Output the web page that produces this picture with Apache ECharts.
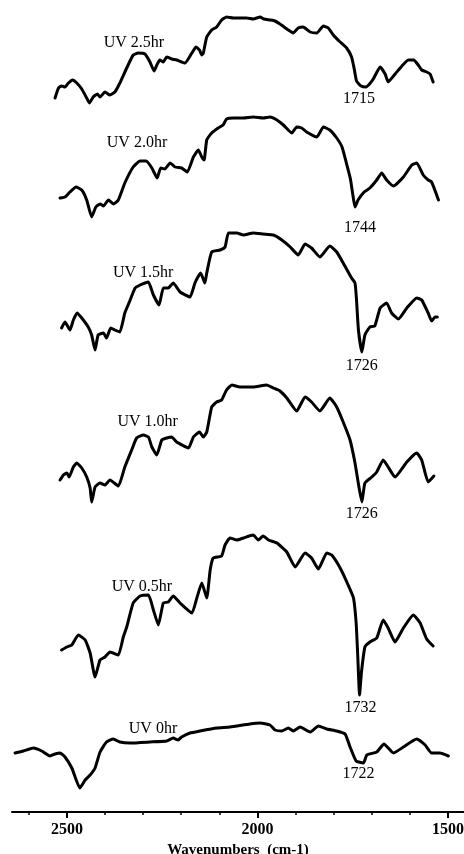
<!DOCTYPE html>
<html>
<head>
<meta charset="utf-8">
<script src="https://cdn.jsdelivr.net/npm/echarts@6/dist/echarts.min.js"></script>
<style>
  html, body { margin: 0; padding: 0; background: #fff; }
  #chart { width: 464px; height: 854px; }
</style>
</head>
<body>
<div id="chart"></div>
<script>
// FTIR spectra of the film after increasing UV exposure, stacked bottom to top.
// Each spectrum: [wavenumber (cm-1), stacked transmittance (a.u.)]
const seriesNames = ['UV 0hr', 'UV 0.5hr', 'UV 1.0hr', 'UV 1.5hr', 'UV 2.0hr', 'UV 2.5hr'];

// Carbonyl band position reported under each trace
const carbonylPeaks = [1722, 1732, 1726, 1726, 1744, 1715];

const spectrum0h = [
  [2636,5.9],[2614,6.1],[2588,6.4],[2566,6.1],[2544,5.6],[2531,5.8],[2518,5.9],[2505,5.5],
  [2487,4.4],[2466,2.4],[2452,3.2],[2439,3.7],[2426,4.4],[2413,6.0],[2396,7.0],[2378,7.3],
  [2361,7.0],[2334,6.9],[2282,7.0],[2238,7.1],[2221,7.4],[2208,7.2],[2199,7.5],[2177,7.9],
  [2151,8.1],[2107,8.4],[2072,8.5],[2020,8.8],[1993,8.9],[1967,8.7],[1954,8.2],[1936,8.1],
  [1919,8.4],[1906,8.1],[1888,8.5],[1862,8.0],[1840,8.6],[1818,8.3],[1792,8.1],[1770,7.8],
  [1757,6.5],[1741,5.1],[1722,4.9],[1713,5.7],[1687,6.0],[1668,6.8],[1643,5.9],[1617,6.5],
  [1582,7.3],[1560,6.7],[1543,5.9],[1521,5.9],[1499,5.6]
];

const spectrum05h = [
  [2514,16.2],[2500,16.5],[2487,16.7],[2470,17.7],[2452,17.2],[2439,15.9],[2426,13.5],[2413,15.2],
  [2400,15.5],[2387,16.0],[2365,15.7],[2352,17.5],[2343,18.5],[2326,20.9],[2308,21.6],[2286,21.7],
  [2273,20.2],[2260,18.7],[2247,20.9],[2234,21.0],[2221,21.6],[2203,20.9],[2172,19.9],[2159,21.4],
  [2146,22.9],[2133,21.4],[2124,24.2],[2116,25.4],[2094,25.6],[2085,26.7],[2072,27.4],[2054,27.2],
  [2037,27.4],[2011,27.7],[1998,27.2],[1985,27.6],[1971,27.2],[1949,26.9],[1923,26.0],[1901,24.5],
  [1875,25.9],[1858,25.4],[1840,24.3],[1818,25.9],[1805,25.7],[1783,24.4],[1762,22.7],[1748,21.4],
  [1741,18.9],[1737,15.8],[1732,11.7],[1727,14.0],[1718,16.5],[1705,17.0],[1687,17.4],[1670,19.2],
  [1657,18.4],[1639,17.0],[1617,18.4],[1591,19.7],[1573,18.9],[1556,17.3],[1539,16.6]
];

const spectrum10h = [
  [2518,33.2],[2509,33.7],[2500,33.9],[2494,33.5],[2483,34.5],[2474,34.9],[2461,34.4],[2448,33.5],
  [2439,32.4],[2435,31.0],[2426,32.5],[2413,32.9],[2400,32.7],[2387,33.2],[2365,32.6],[2348,34.5],
  [2330,36.2],[2317,37.4],[2299,37.7],[2286,37.5],[2277,36.5],[2264,35.7],[2251,37.2],[2238,37.4],
  [2225,37.5],[2212,37.0],[2181,36.4],[2168,37.5],[2152,38.0],[2142,37.5],[2133,38.0],[2120,40.5],
  [2107,41.0],[2094,41.2],[2081,42.2],[2067,42.7],[2046,42.5],[2011,42.5],[1976,42.7],[1958,42.4],
  [1941,42.1],[1923,41.4],[1897,40.1],[1875,41.5],[1858,41.0],[1836,40.1],[1810,41.4],[1792,40.5],
  [1775,39.0],[1757,37.2],[1744,34.9],[1735,32.8],[1726,31.0],[1718,32.9],[1700,33.5],[1687,34.0],
  [1670,35.2],[1657,34.5],[1639,33.5],[1608,35.0],[1582,35.9],[1569,35.2],[1552,33.0],[1537,33.6]
];

const spectrum15h = [
  [2514,48.4],[2505,49.0],[2492,48.2],[2483,49.2],[2473,49.9],[2461,49.4],[2444,48.5],[2435,47.7],
  [2426,46.2],[2418,47.7],[2404,47.9],[2396,47.4],[2385,48.4],[2374,48.2],[2361,48.0],[2348,49.9],
  [2336,51.0],[2321,52.4],[2308,52.7],[2295,52.9],[2286,53.0],[2273,51.7],[2258,50.7],[2247,52.4],
  [2234,52.4],[2221,52.9],[2203,52.0],[2177,51.5],[2164,52.9],[2149,53.9],[2138,52.9],[2133,53.9],
  [2120,56.0],[2098,56.2],[2085,56.5],[2076,57.9],[2054,57.9],[2037,57.7],[2011,57.9],[1985,57.8],
  [1958,57.7],[1936,57.2],[1914,56.5],[1893,55.7],[1875,56.8],[1858,56.4],[1836,55.5],[1810,56.6],
  [1792,56.0],[1775,54.9],[1753,53.4],[1744,52.9],[1740,51.2],[1735,48.2],[1726,46.0],[1718,47.7],
  [1705,48.5],[1692,48.6],[1678,50.4],[1661,50.9],[1648,49.9],[1630,49.3],[1608,50.4],[1582,51.4],
  [1569,51.2],[1552,49.9],[1543,49.1],[1534,49.5],[1528,49.5]
];

const spectrum20h = [
  [2518,61.4],[2505,61.5],[2492,62.0],[2476,62.5],[2461,62.2],[2448,61.2],[2435,59.5],[2424,60.5],
  [2413,60.8],[2404,60.6],[2391,61.2],[2378,60.8],[2365,61.2],[2348,62.9],[2326,64.5],[2308,65.1],
  [2292,65.1],[2277,64.4],[2263,63.4],[2254,64.4],[2243,64.3],[2229,64.9],[2216,64.5],[2199,64.4],
  [2184,64.0],[2168,65.5],[2155,66.2],[2146,65.5],[2140,65.2],[2133,67.2],[2120,67.9],[2103,68.4],
  [2090,68.7],[2081,69.3],[2063,69.4],[2037,69.4],[2011,69.5],[1985,69.4],[1967,69.5],[1949,69.2],
  [1932,68.7],[1910,67.9],[1897,68.5],[1884,68.4],[1871,68.0],[1844,67.5],[1827,68.5],[1810,68.2],
  [1792,67.4],[1778,66.5],[1766,64.8],[1756,63.3],[1750,61.8],[1744,60.5],[1736,61.2],[1720,62.0],
  [1705,62.4],[1687,63.2],[1674,63.9],[1661,63.2],[1643,62.6],[1617,63.5],[1595,64.7],[1582,64.9],
  [1565,63.7],[1552,63.2],[1543,63.0],[1525,61.2]
];

const spectrum25h = [
  [2531,71.4],[2522,72.4],[2514,72.6],[2505,72.5],[2496,72.9],[2485,73.2],[2474,72.9],[2461,72.3],
  [2448,71.4],[2441,70.9],[2431,71.5],[2420,71.8],[2413,71.5],[2400,72.0],[2387,71.7],[2374,72.0],
  [2361,72.9],[2343,74.4],[2326,75.7],[2313,75.9],[2295,75.8],[2282,75.0],[2271,74.1],[2264,74.7],
  [2256,75.2],[2247,75.0],[2238,75.5],[2225,75.3],[2212,75.2],[2190,74.9],[2172,75.9],[2161,76.5],
  [2152,76.2],[2146,75.7],[2142,75.9],[2133,77.5],[2120,78.2],[2107,78.5],[2094,79.2],[2081,79.5],
  [2063,79.4],[2028,79.4],[2011,79.3],[1993,79.5],[1983,79.3],[1967,79.2],[1954,79.1],[1941,78.8],
  [1919,78.2],[1906,77.9],[1893,78.4],[1880,78.5],[1862,78.0],[1844,77.9],[1827,78.6],[1814,78.4],
  [1801,77.7],[1783,77.0],[1766,76.4],[1753,75.5],[1746,74.3],[1740,73.1],[1728,72.6],[1715,72.5],
  [1706,72.8],[1696,73.3],[1678,74.5],[1665,73.8],[1657,73.0],[1645,73.5],[1630,74.2],[1604,75.2],
  [1590,75.2],[1578,74.7],[1569,74.2],[1556,74.0],[1547,73.8],[1539,73.0]
];

const spectra = [spectrum0h, spectrum05h, spectrum10h, spectrum15h, spectrum20h, spectrum25h];

// Axis ticks
const majorTicks = [2500, 2000, 1500];
const minorTicks = [2600, 2500, 2400, 2300, 2200, 2100, 2000, 1900, 1800, 1700, 1600, 1500];
const axisTitle = 'Wavenumbers  (cm-1)';

// ---- layout ----
const X_MIN = 1458, X_MAX = 2644, Y_MAX = 81.2;
// where each trace's name sits (wavenumber, height)
const nameAnchors = [[2274, 8.3], [2303, 22.5], [2288, 39.0], [2300, 53.9], [2316, 66.9], [2324, 76.9]];
// pixel offsets of the peak labels from the band minimum
const peakLabelOffsets = [[-5, 11], [1, 13], [0, 12], [0, 14], [5, 21], [-7, 12]];

const serif = 'Liberation Serif, Times New Roman, serif';

function bandMinimum(spec, peak) {
  let best = null;
  spec.forEach(p => {
    if (Math.abs(p[0] - peak) < 30 && (!best || p[1] < best[1])) best = p;
  });
  return best;
}

const series = spectra.map((spec, i) => {
  const dip = bandMinimum(spec, carbonylPeaks[i]);
  return {
    name: seriesNames[i],
    type: 'line',
    xAxisIndex: 0,
    data: spec,
    showSymbol: false,
    smooth: 0.15,
    lineStyle: { color: '#000', width: 3, join: 'round', cap: 'round' },
    z: 3,
    markPoint: {
      symbol: 'circle',
      symbolSize: 1,
      itemStyle: { color: 'rgba(0,0,0,0)' },
      silent: true,
      data: [
        {
          coord: [carbonylPeaks[i], dip[1]],
          value: carbonylPeaks[i],
          label: {
            show: true, position: 'inside', offset: peakLabelOffsets[i],
            formatter: String(carbonylPeaks[i]),
            color: '#000', fontFamily: serif, fontSize: 16
          }
        },
        {
          coord: nameAnchors[i],
          value: 0,
          label: {
            show: true, position: 'inside',
            formatter: seriesNames[i],
            color: '#000', fontFamily: serif, fontSize: 16
          }
        }
      ]
    }
  };
});

const chart = echarts.init(document.getElementById('chart'), null, { renderer: 'canvas' });
chart.setOption({
  animation: false,
  backgroundColor: '#fff',
  grid: { left: 12, right: 0, top: 0, bottom: 42, containLabel: false, outerBoundsMode: 'none' },
  xAxis: [
    {
      type: 'value', inverse: true, min: X_MIN, max: X_MAX, position: 'bottom',
      axisLine: { show: true, onZero: false, lineStyle: { color: '#000', width: 2 } },
      axisTick: { show: true, length: 3, customValues: minorTicks, lineStyle: { color: '#000', width: 1.5 } },
      axisLabel: { show: false },
      splitLine: { show: false }
    },
    {
      type: 'value', inverse: true, min: X_MIN, max: X_MAX, position: 'bottom',
      axisLine: { show: false, onZero: false },
      axisTick: { show: true, length: 6, customValues: majorTicks, lineStyle: { color: '#000', width: 2 } },
      axisLabel: {
        show: true, customValues: majorTicks, margin: 10,
        formatter: v => String(v),
        fontFamily: serif, fontWeight: 'bold', fontSize: 16, color: '#000'
      },
      splitLine: { show: false },
      name: axisTitle, nameLocation: 'middle', nameGap: 35,
      nameTextStyle: {
        fontFamily: serif, fontWeight: 'bold', fontSize: 15, color: '#000',
        verticalAlign: 'middle'
      }
    }
  ],
  yAxis: { type: 'value', min: 0, max: Y_MAX, show: false },
  series: series
});
</script>
</body>
</html>
